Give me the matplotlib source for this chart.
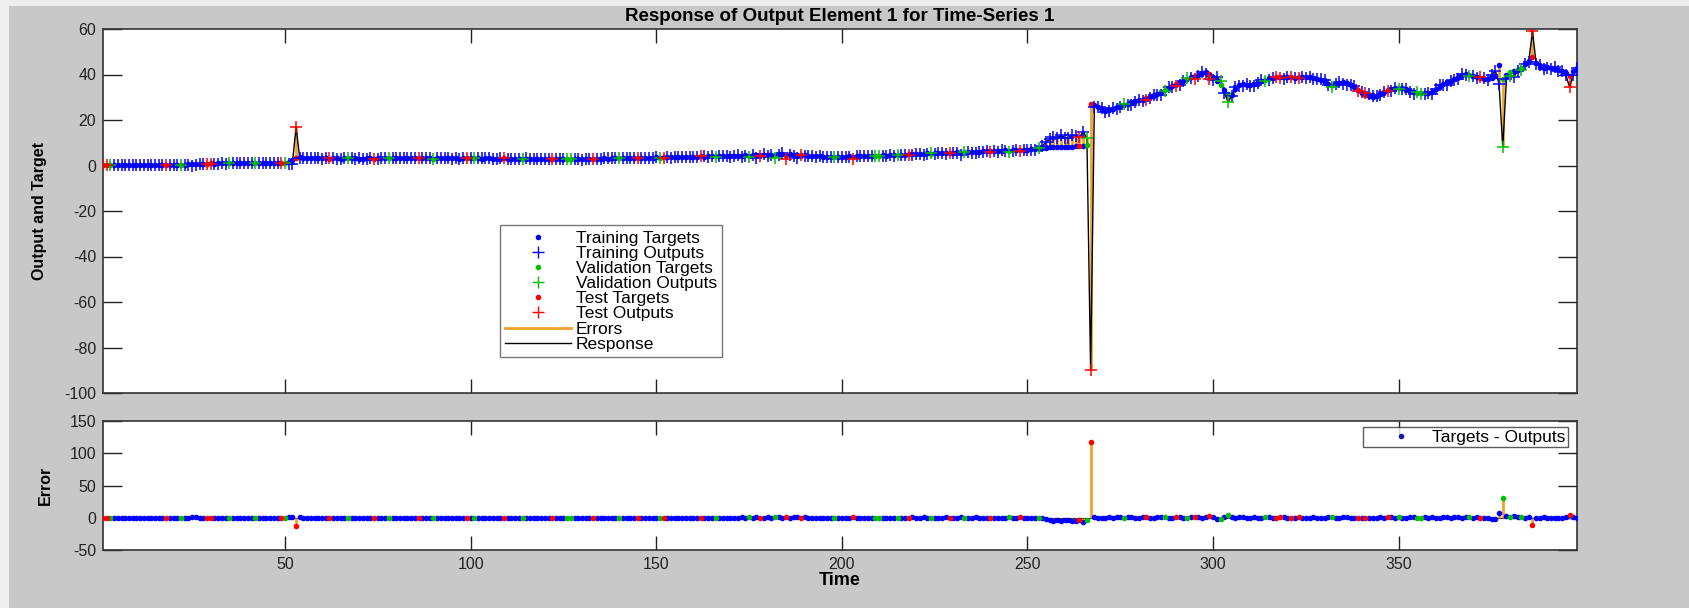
import numpy as np
import matplotlib
matplotlib.use("Agg")
import matplotlib.pyplot as plt
from matplotlib.lines import Line2D
from matplotlib.patches import Rectangle

plt.rcParams['font.family'] = ['Liberation Sans', 'DejaVu Sans']
plt.rcParams['axes.unicode_minus'] = False

# target values, one per time step (t = 1..398)
targets = [
    0.2, 0.1, 0.2, 0.2, 0.1, 0.2, 0.2, 0.3, 0.2, 0.2,
    0.3, 0.2, 0.3, 0.3, 0.2, 0.3, 0.4, 0.3, 0.3, 0.4,
    0.4, 0.3, 0.4, 0.5, 0.6, 0.8, 0.7, 0.8, 0.8, 0.9,
    0.8, 0.9, 0.9, 1.0, 0.9, 1.0, 1.0, 0.9, 1.0, 1.1,
    1.0, 1.1, 1.0, 1.1, 1.1, 1.0, 1.1, 1.2, 1.1, 1.2,
    1.4, 2.6, 3.4, 3.6, 3.5, 3.3, 3.4, 3.2, 3.3, 3.1,
    3.2, 3.0, 3.1, 3.2, 3.0, 3.1, 3.2, 3.3, 3.1, 3.0,
    2.9, 3.1, 3.2, 3.0, 3.1, 3.3, 3.2, 3.1, 3.2, 3.3,
    3.2, 3.4, 3.3, 3.2, 3.1, 3.3, 3.4, 3.2, 3.1, 3.0,
    3.1, 3.2, 3.3, 3.2, 3.1, 3.2, 3.0, 3.1, 3.2, 3.3,
    3.2, 3.1, 3.0, 3.2, 3.1, 3.0, 2.9, 3.0, 3.1, 3.0,
    2.9, 3.0, 2.8, 2.9, 3.0, 2.9, 2.8, 2.9, 3.0, 2.9,
    2.8, 2.7, 2.8, 2.9, 2.8, 2.7, 2.8, 2.9, 2.8, 2.7,
    2.8, 2.9, 3.0, 2.9, 3.0, 3.1, 3.0, 3.2, 3.1, 3.2,
    3.3, 3.2, 3.3, 3.4, 3.3, 3.4, 3.5, 3.4, 3.5, 3.6,
    3.5, 3.6, 3.7, 3.6, 3.7, 3.8, 3.7, 3.8, 3.9, 3.8,
    3.9, 4.0, 3.9, 4.0, 4.1, 4.0, 4.1, 4.2, 4.1, 4.2,
    4.3, 4.2, 4.3, 4.4, 4.3, 4.5, 4.6, 4.5, 4.7, 4.6,
    4.8, 4.7, 4.9, 5.0, 4.8, 4.9, 4.7, 4.6, 4.5, 4.4,
    4.3, 4.2, 4.1, 4.0, 3.9, 3.8, 3.9, 3.8, 3.9, 3.8,
    3.9, 4.0, 3.9, 4.1, 4.0, 4.2, 4.1, 4.3, 4.2, 4.3,
    4.4, 4.3, 4.5, 4.6, 4.5, 4.7, 4.8, 4.9, 5.0, 5.1,
    5.0, 5.2, 5.3, 5.2, 5.4, 5.5, 5.4, 5.6, 5.5, 5.7,
    5.8, 5.7, 5.9, 6.0, 5.9, 6.1, 6.0, 6.2, 6.3, 6.2,
    6.4, 6.3, 6.5, 6.6, 6.5, 6.7, 6.8, 6.7, 6.9, 7.0,
    7.1, 7.2, 7.4, 7.6, 7.8, 8.0, 8.1, 8.0, 8.2, 8.1,
    8.3, 8.2, 8.4, 8.5, 8.6, 9.0, 27.0, 26.5, 25.5, 24.5,
    24.0, 24.5, 25.0, 25.8, 26.3, 26.8, 27.2, 27.8, 28.2, 28.6,
    29.0, 29.5, 30.0, 30.8, 31.5, 32.3, 33.0, 34.0, 35.0, 35.8,
    36.5, 37.2, 38.0, 38.8, 39.5, 40.0, 40.6, 41.0, 40.2, 38.8,
    37.0, 35.5, 33.0, 31.5, 31.0, 33.5, 35.5, 36.0, 35.6, 35.2,
    35.8, 36.5, 37.2, 37.8, 38.3, 38.6, 38.8, 38.7, 38.9, 39.0,
    38.8, 38.6, 38.8, 39.0, 38.9, 38.7, 38.5, 38.2, 37.6, 36.8,
    36.0, 35.5, 35.8, 36.3, 36.5, 36.2, 35.5, 34.5, 33.2, 32.0,
    31.0, 30.4, 30.2, 30.6, 31.4, 32.3, 33.0, 33.6, 34.0, 34.2,
    34.0, 33.5, 32.8, 32.2, 31.8, 31.7, 31.8, 32.0, 32.4, 33.5,
    34.8, 35.8, 36.5, 37.3, 38.2, 39.0, 39.8, 40.2, 40.0, 39.4,
    38.8, 38.4, 38.2, 38.0, 38.5, 39.5, 44.0, 38.0, 40.0, 41.0,
    41.5, 42.0, 43.0, 44.5, 46.0, 47.5, 45.0, 43.5, 43.0, 43.2,
    42.8, 42.5, 42.0, 41.5, 40.5, 39.5, 41.5, 43.0,
]

# errors = target - output
errors = [
    0.1, 0.0, -0.1, 0.1, 0.0, 0.0, 0.1, -0.1, 0.0, 0.1,
    0.0, -0.1, 0.1, 0.0, 0.0, 0.1, 0.0, -0.1, 0.1, 0.0,
    0.1, 0.0, 0.2, 0.1, 0.9, 0.6, 0.1, 0.0, 0.2, 0.1,
    0.0, 0.1, 0.0, 0.2, 0.0, 0.1, 0.0, -0.1, 0.1, 0.0,
    0.1, 0.0, -0.1, 0.1, 0.0, 0.0, 0.1, 0.0, 0.1, 0.2,
    0.8, 1.8, -13.5, 0.4, 0.1, 0.0, -0.1, 0.1, 0.0, 0.1,
    0.1, -0.1, 0.0, 0.2, 0.0, -0.1, 0.1, 0.0, 0.1, -0.1,
    0.0, 0.1, -0.1, 0.0, 0.2, 0.1, 0.0, -0.1, 0.1, 0.0,
    0.1, 0.0, 0.1, -0.1, 0.0, 0.2, 0.0, 0.1, -0.1, 0.0,
    0.0, 0.1, 0.0, -0.1, 0.1, 0.0, 0.1, 0.0, -0.1, 0.1,
    0.1, 0.0, -0.1, 0.1, 0.0, 0.0, 0.1, -0.1, 0.0, 0.1,
    0.0, 0.1, 0.0, 0.0, -0.1, 0.1, 0.0, 0.1, 0.0, -0.1,
    0.1, 0.0, 0.0, 0.1, -0.1, 0.0, 0.1, 0.0, 0.0, 0.1,
    -0.1, 0.0, 0.1, 0.0, 0.1, 0.0, -0.1, 0.1, 0.0, 0.0,
    0.1, 0.0, 0.1, -0.1, 0.0, 0.1, 0.0, 0.0, 0.1, 0.0,
    0.0, 0.1, 0.0, 0.1, 0.0, -0.1, 0.1, 0.0, 0.1, 0.0,
    0.1, 0.0, -0.1, 0.1, 0.0, 0.2, 0.0, 0.1, 0.0, 0.3,
    0.2, -0.3, 0.4, 0.2, 0.6, -0.2, 1.2, 0.3, -0.4, 0.5,
    0.2, 1.5, 0.4, -0.3, 1.8, 0.2, 0.5, 1.3, -0.2, 0.4,
    0.1, 0.0, 0.2, -0.1, 0.1, 0.0, 0.1, 0.2, 0.0, 0.1,
    0.0, 0.2, 1.0, 0.1, -0.1, 0.2, 0.0, 0.1, 0.0, 0.1,
    0.2, 0.0, 0.1, 0.3, -0.1, 0.2, 0.0, 0.1, 0.4, 0.1,
    0.0, 0.8, 0.2, -0.2, 0.3, 0.1, 0.0, 0.4, 0.2, 0.0,
    0.3, 0.9, 0.1, -0.1, 0.2, 0.4, 0.0, 0.3, 0.1, 0.2,
    0.0, 0.3, -0.2, 0.1, 0.5, 0.2, 0.0, 0.4, 0.1, 0.2,
    0.2, 0.3, -0.5, -1.0, -2.5, -3.5, -4.5, -4.0, -5.0, -4.2,
    -3.8, -5.2, -4.4, -4.0, -6.2, -3.0, 117.0, 0.8, -0.4, -0.6,
    0.3, 0.5, -0.2, 0.8, 0.4, -0.3, 0.6, 1.0, 0.2, -0.4,
    0.5, 0.9, 0.3, -0.2, 0.7, 1.2, 0.4, -0.5, 0.3, 0.8,
    1.0, 0.2, -0.6, 0.5, 1.4, 0.7, -0.3, 0.9, 2.0, 1.2,
    -2.0, -1.5, 1.0, 3.5, 0.5, -0.8, 0.6, 1.2, -0.4, 0.3,
    0.8, 0.2, -0.3, 0.5, 0.9, 0.1, -0.2, 0.4, 0.7, 0.0,
    -0.3, 0.2, 0.5, -0.1, 0.3, -0.4, 0.6, 0.2, -0.5, -0.9,
    0.4, 0.8, 0.1, -0.3, 0.5, 0.9, 0.2, -0.4, 0.3, -0.2,
    -0.8, -1.0, -0.5, 0.2, 0.6, -0.2, 0.4, 0.7, 0.1, 0.5,
    0.3, -0.2, 0.4, 0.6, -0.5, 0.2, 0.5, 0.3, 0.8, 0.0,
    -0.4, 0.6, 0.9, 0.3, 0.5, 1.0, -0.3, 0.4, 0.6, 0.2,
    0.5, -0.6, -0.2, 0.3, -1.5, -2.0, 8.0, 30.0, 2.0, 1.5,
    2.5, 0.6, 1.0, -0.3, 0.5, -11.5, 0.2, -0.5, 0.4, 0.3,
    0.2, -0.6, 0.3, -0.2, 0.8, 5.0, 1.5, 0.0,
]

# data division per step: r = training, v = validation, s = test
division = (
    "ssvrrrrrrr" "rrrrrrrsrr" "rvrrrrrrss" "rrrrvrrrrr" "rvrrrrrrsv"
    "rrsrrrrrrr" "rsrrrrvrrr" "rrrsrrrvrr" "rrrrrsrrrv" "rrrrrrrrsr"
    "vrrrrrrrsr" "rrrvrrrrrr" "rsrrrvvrrr" "rrsrrrrrrv" "rrrrsrrrrr"
    "vsrrrrrrrr" "rsrrrvrrrr" "rrrrvrrsrr" "rvrrsrrrsr" "rrrrrrrvrr"
    "rrsrrrrrvv" "rrrrvrrsrr" "rrrvrrrrsr" "rrvrrrrrrs" "rrrrvrrsrr"
    "rrvrrrrrrr" "rrrsrvsrrr" "rrrrrvrrrr" "rsrrrrvrrs" "rrvrsrrrsr"
    "rvrvrrrrrr" "rrrvrrssrr" "srsrrrrrrr" "rvrrrrrrsr" "srrrrrsrrv"
    "rrrrvvrrrr" "rrrrrrrrvr" "rsrrrrrvrv" "rrvrrsrrrr" "rrrrrsrr"
)

groups = [("r", "Training", "#0000ff"),
          ("v", "Validation", "#00c000"),
          ("s", "Test", "#ff0000")]

err_color = "#f2a22c"

t = np.arange(1, len(targets) + 1)
tgt = np.array(targets)
err = np.array(errors)
out = tgt - err
div = np.array(list(division))

fig = plt.figure(figsize=(16.89, 6.08), dpi=100, facecolor="#eeeeee")
fig.patches.append(Rectangle((9 / 1689, 0), 1, 1 - 6 / 608, transform=fig.transFigure,
                             facecolor="#c8c8c8", edgecolor="none", zorder=-10))

ax1 = fig.add_axes([103 / 1689, 215 / 608, 1474 / 1689, 364 / 608])
ax2 = fig.add_axes([103 / 1689, 58 / 608, 1474 / 1689, 129 / 608])

label_font = dict(fontsize=11.5, fontweight="bold")

# top: response
ax1.vlines(t, tgt, out, color=err_color, lw=2, zorder=2)
ax1.plot(t, out, color="black", lw=1, zorder=3)
for key, name, col in groups:
    m = div == key
    ax1.plot(t[m], tgt[m], ".", color=col, ms=6, zorder=4)
    ax1.plot(t[m], out[m], "+", color=col, ms=8, mew=1.1, zorder=5)

ax1.set_xlim(1, 398)
ax1.set_ylim(-100, 60)
ax1.set_yticks(np.arange(-100, 61, 20))
ax1.set_xticks([50, 100, 150, 200, 250, 300, 350])
ax1.tick_params(labelbottom=False)
ax1.set_title("Response of Output Element 1 for Time-Series 1", fontsize=13.5,
              fontweight="bold", pad=6)
ax1.set_ylabel("Output and Target", labelpad=12, **label_font)

handles = []
for key, name, col in groups:
    handles.append(Line2D([], [], ls="none", marker=".", color=col, ms=6,
                          label=name + " Targets"))
    handles.append(Line2D([], [], ls="none", marker="+", color=col, ms=8,
                          label=name + " Outputs"))
handles.append(Line2D([], [], color=err_color, lw=2, label="Errors"))
handles.append(Line2D([], [], color="black", lw=1, label="Response"))
leg = ax1.legend(handles=handles, loc="lower left", bbox_to_anchor=(0.269, 0.099),
                 fontsize=12.5, frameon=True, fancybox=False, edgecolor="#555555",
                 handlelength=3.8, handletextpad=0.3, labelspacing=0.0,
                 borderpad=0.3, borderaxespad=0)
leg.get_frame().set_linewidth(1)

# bottom: error
ax2.axhline(0, color="black", lw=0.8, zorder=1)
ax2.vlines(t, 0, err, color=err_color, lw=2, zorder=2)
for key, name, col in groups:
    m = div == key
    ax2.plot(t[m], err[m], ".", color=col, ms=6, zorder=4)

ax2.set_xlim(1, 398)
ax2.set_ylim(-50, 150)
ax2.set_yticks([-50, 0, 50, 100, 150])
ax2.set_xticks([50, 100, 150, 200, 250, 300, 350])
ax2.set_xlabel("Time", fontsize=13, fontweight="bold", labelpad=0)
ax2.set_ylabel("Error", labelpad=12, **label_font)
leg2 = ax2.legend(handles=[Line2D([], [], ls="none", marker=".", color="#1a1a9a", ms=6,
                                  label="Targets - Outputs")],
                  loc="upper right", bbox_to_anchor=(1 - 9 / 1474, 1 - 6 / 129),
                  fontsize=12.5, fancybox=False, edgecolor="#333333",
                  handlelength=4, handletextpad=-0.2, borderpad=0.15, borderaxespad=0)
leg2.get_frame().set_linewidth(1)

for ax in (ax1, ax2):
    ax.set_facecolor("white")
    for s in ax.spines.values():
        s.set_color("#333333")
        s.set_linewidth(1.2)
    ax.tick_params(direction="in", top=True, right=True, length=10, width=1,
                   labelsize=11.5, colors="#222222", pad=5)
    ax.tick_params(axis="y", length=14)

fig.savefig("out.png", dpi=100, facecolor=fig.get_facecolor())
